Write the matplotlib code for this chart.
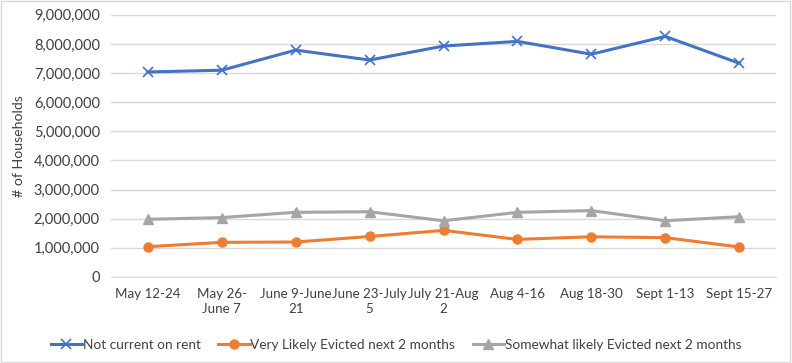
import matplotlib
matplotlib.use('Agg')
import matplotlib.pyplot as plt
from matplotlib.ticker import FuncFormatter
from matplotlib.patches import Rectangle

categories = ['May 12-24', 'May 26-\nJune 7', 'June 9-June\n21', 'June 23-July\n5',
              'July 21-Aug\n2', 'Aug 4-16', 'Aug 18-30', 'Sept 1-13', 'Sept 15-27']
not_current = [7040000, 7100000, 7790000, 7450000, 7930000, 8090000, 7650000, 8260000, 7340000]
very_likely = [1040000, 1190000, 1200000, 1390000, 1600000, 1290000, 1380000, 1350000, 1030000]
somewhat_likely = [1980000, 2040000, 2220000, 2240000, 1930000, 2220000, 2280000, 1930000, 2070000]

plt.rcParams['font.family'] = ['Lato', 'DejaVu Sans']

fig = plt.figure(figsize=(7.92, 3.63), dpi=100)
ax = fig.add_axes([0.140, 0.237, 0.840, 0.722])

x = range(len(categories))
ax.plot(x, not_current, '-x', color='#4472C4', lw=2.2, ms=7, mew=1.2,
        label='Not current on rent')
ax.plot(x, very_likely, '-o', color='#ED7D31', lw=2.2, ms=6.5,
        label='Very Likely Evicted next 2 months')
ax.plot(x, somewhat_likely, '-^', color='#A5A5A5', lw=2.2, ms=6.5,
        label='Somewhat likely Evicted next 2 months')

ax.set_xlim(-0.5, len(categories) - 0.5)
ax.set_ylim(0, 9000000)
ax.set_yticks(range(0, 9000001, 1000000))
ax.yaxis.set_major_formatter(FuncFormatter(lambda v, p: '{:,.0f}'.format(v)))
ax.set_xticks(list(x))
ax.set_xticklabels(categories, fontsize=9.6, color='#404040', linespacing=1.3)
ax.tick_params(axis='y', labelsize=10.5, labelcolor='#404040', length=0, pad=8)
ax.tick_params(axis='x', length=0, pad=8)
ax.grid(axis='y', color='#D9D9D9', lw=1)
ax.set_axisbelow(True)
for s in ['top', 'right', 'left']:
    ax.spines[s].set_visible(False)
ax.spines['bottom'].set_color('#D9D9D9')
ax.set_ylabel('# of Households', fontsize=10.2, color='#404040', labelpad=6)

fig.legend(loc='lower center', ncol=3, frameon=False, fontsize=9.8,
           bbox_to_anchor=(0.5, 0.0), handlelength=2.3, columnspacing=1.3,
           labelcolor='#404040', handletextpad=0.05)

fig.patches.append(Rectangle((0.001, 0.002), 0.997, 0.995, transform=fig.transFigure,
                             fill=False, edgecolor='#D9D9D9', lw=1))

fig.savefig('out.png', dpi=100)
